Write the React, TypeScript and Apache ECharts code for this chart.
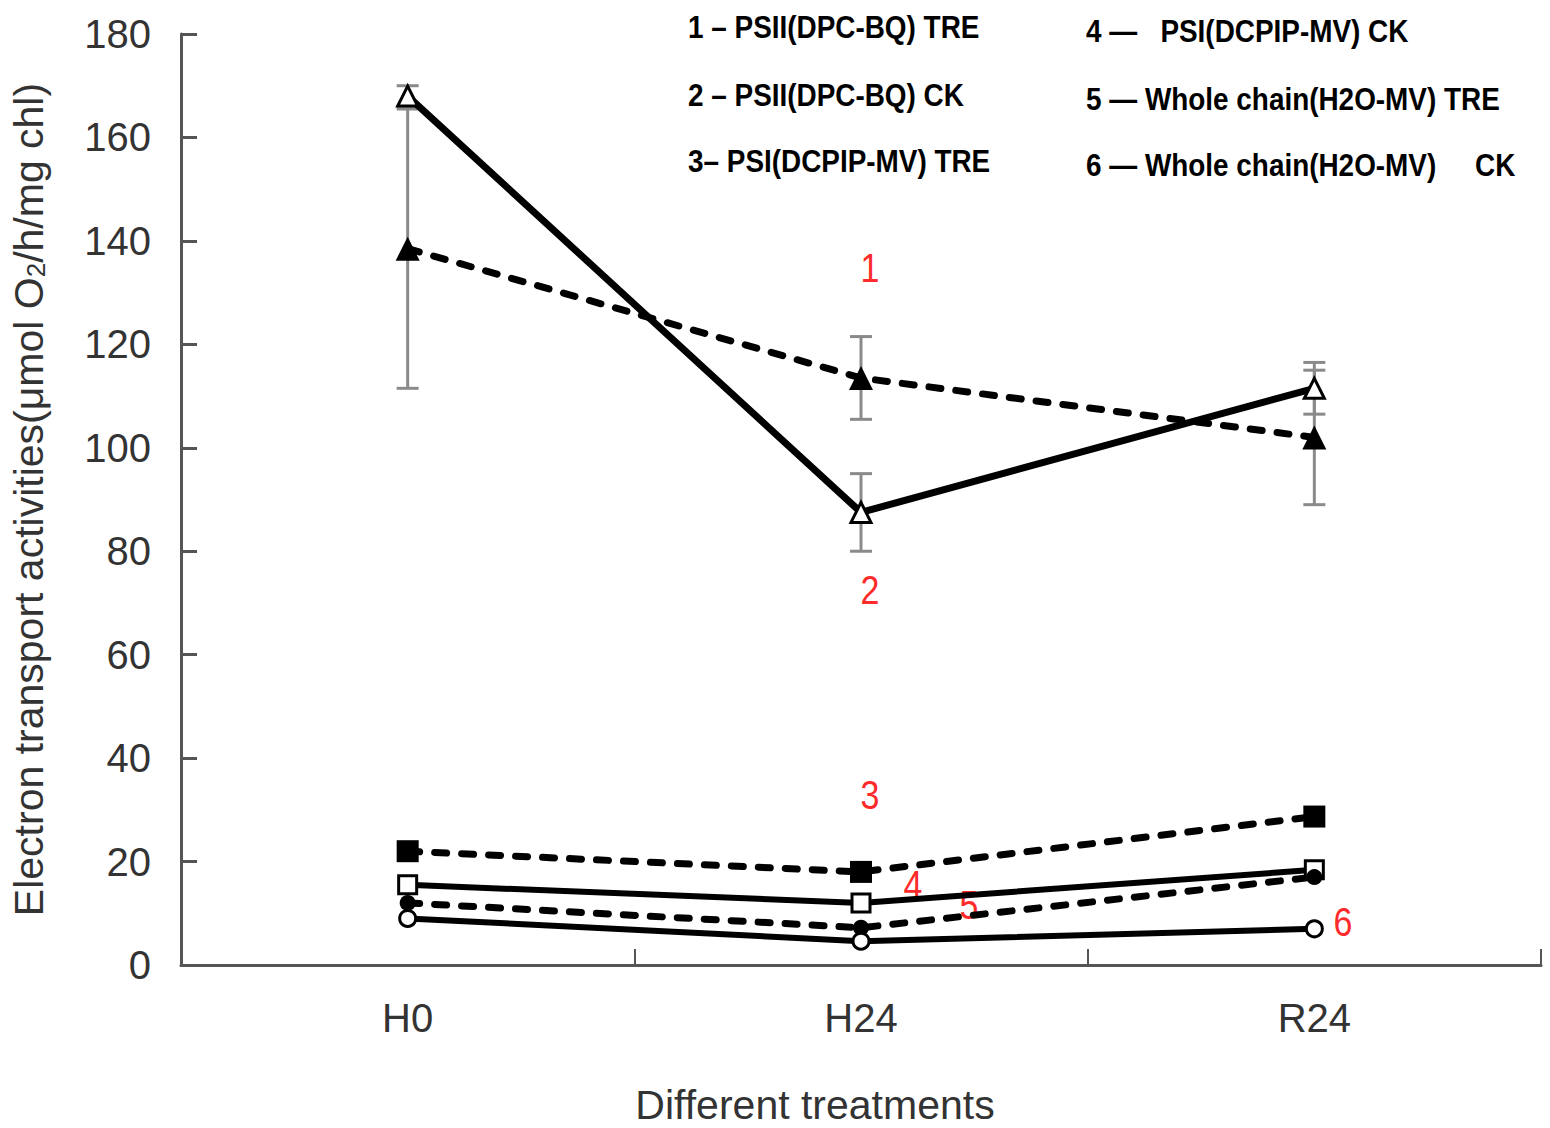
import React, { useEffect, useRef } from "react";
import * as echarts from "echarts";

const categories = ["H0", "H24", "R24"];
const yTicks = { min: 0, max: 180, interval: 20 };

// PSII (DPC-BQ)
const psiiTre = [138.5, 113.5, 102];
const psiiTreErr = [27, 8, 13];
const psiiCk = [168, 87.5, 111.5];
const psiiCkErr = [2, 7.5, 5];
// PSI (DCPIP-MV)
const psiTre = [22, 18, 28.7];
const psiCk = [15.5, 12, 18.4];
// Whole chain (H2O-MV)
const wholeTre = [12, 7.2, 17];
const wholeCk = [9, 4.6, 7];

const legendLeft = [
  "1 – PSII(DPC-BQ) TRE",
  "2 – PSII(DPC-BQ) CK",
  "3– PSI(DCPIP-MV) TRE",
];
const legendRight = [
  "4 —   PSI(DCPIP-MV) CK",
  "5 — Whole chain(H2O-MV) TRE",
  "6 — Whole chain(H2O-MV)     CK",
];
const curveTags = ["1", "2", "3", "4", "5", "6"];

const FONT = "'Liberation Sans', Arial, sans-serif";

export default function App() {
  const ref = useRef<HTMLDivElement>(null);
  useEffect(() => {
    if (!ref.current) return;
    const chart = echarts.init(ref.current, undefined, { renderer: "svg" });

    const errData = (vals: number[], errs: number[]) =>
      vals.map((v, i) => [i, v - errs[i], v + errs[i]]);

    const errorSeries = (vals: number[], errs: number[]) => ({
      type: "custom",
      z: 1,
      silent: true,
      data: errData(vals, errs),
      encode: { x: 0, y: [1, 2] },
      renderItem: (params: any, api: any) => {
        const x = api.value(0);
        const lo = api.coord([x, api.value(1)]);
        const hi = api.coord([x, api.value(2)]);
        const cap = 11;
        const st = { stroke: "#8a8a8a", lineWidth: 3 };
        return {
          type: "group",
          children: [
            { type: "line", shape: { x1: lo[0], y1: lo[1], x2: hi[0], y2: hi[1] }, style: st },
            { type: "line", shape: { x1: lo[0] - cap, y1: lo[1], x2: lo[0] + cap, y2: lo[1] }, style: st },
            { type: "line", shape: { x1: hi[0] - cap, y1: hi[1], x2: hi[0] + cap, y2: hi[1] }, style: st },
          ],
        };
      },
    });

    const lineSeries = (
      name: string,
      data: number[],
      dashed: boolean,
      symbol: string,
      size: number,
      filled: boolean,
      width: number
    ) => ({
      name,
      type: "line",
      z: 3,
      data,
      symbol,
      symbolSize: size,
      showAllSymbol: true,
      lineStyle: {
        color: "#000",
        width,
        type: dashed ? [12, 15] : "solid",
        cap: dashed ? "round" : "butt",
      },
      itemStyle: {
        color: filled ? "#000" : "#fff",
        borderColor: "#000",
        borderWidth: filled ? 0 : 3,
      },
    });

    const legendGraphics: any[] = [];
    const rowsY = [27, 95, 161];
    legendLeft.forEach((t, i) =>
      legendGraphics.push({
        type: "text",
        x: 688,
        y: rowsY[i],
        scaleX: 0.9,
        style: {
          text: t,
          font: `bold 31px ${FONT}`,
          fill: "#000",
          verticalAlign: "middle",
          align: "left",
        },
      })
    );
    legendRight.forEach((t, i) =>
      legendGraphics.push({
        type: "text",
        x: 1086,
        y: rowsY[i] + 4,
        scaleX: 0.9,
        style: {
          text: t,
          font: `bold 31px ${FONT}`,
          fill: "#000",
          verticalAlign: "middle",
          align: "left",
        },
      })
    );
    const tagPos = [
      [870, 268],
      [870, 590],
      [870, 795],
      [913, 885],
      [969, 905],
      [1343, 922],
    ];
    curveTags.forEach((t, i) =>
      legendGraphics.push({
        type: "text",
        x: tagPos[i][0],
        y: tagPos[i][1],
        scaleX: 0.85,
        style: {
          text: t,
          font: `40px ${FONT}`,
          fill: "#ff2a2a",
          align: "center",
          verticalAlign: "middle",
        },
      })
    );
    legendGraphics.push({
      type: "text",
      x: 815,
      y: 1105,
      style: {
        text: "Different treatments",
        font: `41px ${FONT}`,
        fill: "#333",
        align: "center",
        verticalAlign: "middle",
      },
    });

    chart.setOption({
      animation: false,
      backgroundColor: "#fff",
      grid: { left: 180, right: 9, top: 34, bottom: 163, containLabel: false },
      xAxis: {
        type: "category",
        data: categories,
        boundaryGap: true,
        axisLine: { show: true, lineStyle: { color: "#555", width: 3 } },
        axisTick: { show: true, inside: true, length: 16, lineStyle: { color: "#555", width: 2 } },
        axisLabel: { color: "#333", fontSize: 40, fontFamily: FONT, margin: 33 },
        splitLine: { show: false },
      },
      yAxis: {
        type: "value",
        min: yTicks.min,
        max: yTicks.max,
        interval: yTicks.interval,
        name: "Electron transport activities(μmol O{sub|2}/h/mg chl)",
        nameLocation: "middle",
        nameGap: 132,
        nameTextStyle: {
          color: "#333",
          fontSize: 41,
          fontFamily: FONT,
          rich: {
            sub: { fontSize: 26, color: "#333", fontFamily: FONT, verticalAlign: "bottom", padding: [15, 0, 0, 0] },
          },
        },
        axisLine: { show: true, lineStyle: { color: "#555", width: 3 } },
        axisTick: { show: true, inside: true, length: 16, lineStyle: { color: "#555", width: 3 } },
        axisLabel: { color: "#333", fontSize: 40, fontFamily: FONT, margin: 30 },
        splitLine: { show: false },
      },
      graphic: legendGraphics,
      series: [
        errorSeries(psiiTre, psiiTreErr),
        errorSeries(psiiCk, psiiCkErr),
        lineSeries("PSII(DPC-BQ) TRE", psiiTre, true, "triangle", 24, true, 7),
        lineSeries("PSII(DPC-BQ) CK", psiiCk, false, "triangle", 20, false, 7),
        lineSeries("PSI(DCPIP-MV) TRE", psiTre, true, "rect", 22, true, 7),
        lineSeries("PSI(DCPIP-MV) CK", psiCk, false, "rect", 18, false, 6),
        lineSeries("Whole chain(H2O-MV) TRE", wholeTre, true, "circle", 16, true, 7),
        lineSeries("Whole chain(H2O-MV) CK", wholeCk, false, "circle", 16, false, 6),
      ],
    });
    return () => chart.dispose();
  }, []);

  return (
    <div
      ref={ref}
      style={{ position: "absolute", left: 0, top: 0, width: 1550, height: 1128 }}
    />
  );
}
